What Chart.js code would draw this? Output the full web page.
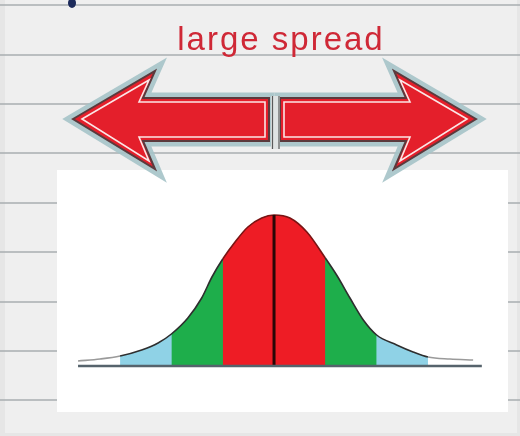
<!DOCTYPE html>
<html>
<head>
<meta charset="utf-8">
<script src="https://cdn.jsdelivr.net/npm/chart.js@4.4.1/dist/chart.umd.min.js"></script>
<style>
  html,body{margin:0;padding:0;background:#e9e9e9;overflow:hidden;}
  #wrap{position:relative;width:520px;height:436px;}
  #c{position:absolute;left:0;top:0;}
  #title{position:absolute;left:0;top:22px;width:562px;text-align:center;
    font-family:"Liberation Sans","DejaVu Sans",sans-serif;font-size:33px;line-height:34px;
    letter-spacing:2px;color:#cf2836;white-space:nowrap;}
</style>
</head>
<body>
<div id="wrap">
  <canvas id="c" width="520" height="436"></canvas>
  <div id="title">large spread</div>
</div>
<script>
// ---- data (x in spread units from the centre, y = curve height) ----
const curveX = [-3.82, -3.39, -3.0, -2.58, -2.26, -2.0, -1.68, -1.41, -1.21, -1.0, -0.76, -0.51, -0.24, 0.0,
                 0.31, 0.64, 1.0, 1.22, 1.48, 1.74, 2.0, 2.39, 2.71, 3.0, 3.43, 3.88];
const curveY = [5, 7, 10, 16, 23, 32, 48, 68, 89, 107, 124, 139, 148, 151,
                148, 134, 108, 91, 68, 46, 31, 21, 14, 9, 7, 6];
// nested bands: outer (light blue) +-3, middle (green) +-2, inner (red) +-1
const bandLimits = [3, 2, 1];
const bandColors = ['#8fd2e6', '#1eae4b', '#ee1c25'];
const baselineX = [-3.82, 4.05];
const centreX = 0;
const centreTop = 151;

const curvePts = curveX.map((x, i) => ({x: x, y: curveY[i]}));

const datasets = [];
bandLimits.forEach((lim, i) => {
  datasets.push({
    data: curvePts.filter(p => p.x >= -lim && p.x <= lim),
    backgroundColor: bandColors[i],
    borderWidth: 0,
    fill: 'origin',
    pointRadius: 0,
    cubicInterpolationMode: 'monotone',
    order: 20 - i
  });
});
datasets.push({
  data: curvePts,
  borderColor: '#333',
  borderWidth: 1.6,
  fill: false,
  pointRadius: 0,
  cubicInterpolationMode: 'monotone',
  order: 3,
  segment: {
    borderColor: ctx => {
      const x0 = ctx.p0.parsed.x, x1 = ctx.p1.parsed.x;
      if (x1 <= -3 || x0 >= 3) return '#9a9a9a';
      if (x0 >= -1 && x1 <= 1) return '#7a1414';
      return '#2e2e2e';
    }
  }
});
datasets.push({
  data: [{x: centreX, y: 0}, {x: centreX, y: centreTop}],
  borderColor: '#2a0606',
  borderWidth: 3,
  pointRadius: 0,
  fill: false,
  order: 2
});
datasets.push({
  data: baselineX.map(x => ({x: x, y: 0})),
  borderColor: '#56636c',
  borderWidth: 2.5,
  pointRadius: 0,
  fill: false,
  order: 1
});

function arrowPath(ctx, pts, mirror) {
  ctx.beginPath();
  pts.forEach((p, i) => {
    const x = mirror ? 549 - p[0] : p[0];
    if (i === 0) ctx.moveTo(x, p[1]); else ctx.lineTo(x, p[1]);
  });
  ctx.closePath();
}

const outer = [[73,119],[155,71],[143,98],[269,98],[269,141],[143,141],[155,169]];
const inner = [[82,119],[149,80],[139,102],[265,102],[265,137],[139,137],[149,161]];

const paperPlugin = {
  id: 'paper',
  beforeDraw(chart) {
    const ctx = chart.ctx;
    ctx.save();
    // paper
    ctx.fillStyle = '#e6e6e6';
    ctx.fillRect(0, 0, 520, 436);
    ctx.fillStyle = '#efefef';
    ctx.fillRect(5, 0, 512, 433);
    ctx.strokeStyle = '#a8aeb1';
    ctx.lineWidth = 1.5;
    [5, 55, 104, 153, 203, 252, 302, 351, 400].forEach(y => {
      ctx.beginPath(); ctx.moveTo(0, y); ctx.lineTo(520, y); ctx.stroke();
    });
    // small ink mark top-left
    ctx.fillStyle = '#1c2a5a';
    ctx.beginPath(); ctx.ellipse(72, 3, 4, 5, 0, 0, Math.PI * 2); ctx.fill();
    // white chart panel
    const a = chart.chartArea;
    ctx.fillStyle = '#ffffff';
    ctx.fillRect(a.left, a.top, a.right - a.left, a.bottom - a.top);
    // arrows
    [false, true].forEach(m => {
      ctx.lineJoin = 'miter';
      arrowPath(ctx, outer, m);
      ctx.strokeStyle = 'rgba(165,195,200,0.9)';
      ctx.lineWidth = 11;
      ctx.stroke();
      ctx.fillStyle = '#e41f2b';
      ctx.fill();
      ctx.strokeStyle = '#5b3a3d';
      ctx.lineWidth = 2;
      ctx.stroke();
      arrowPath(ctx, inner, m);
      ctx.strokeStyle = '#fbe6e6';
      ctx.lineWidth = 1.6;
      ctx.stroke();
    });
    // divider between the two shafts
    ctx.fillStyle = '#dfe3e3';
    ctx.fillRect(271, 96, 9, 53);
    ctx.strokeStyle = '#5a5a5a';
    ctx.lineWidth = 1.2;
    ctx.beginPath(); ctx.moveTo(272.5, 96); ctx.lineTo(272.5, 149); ctx.stroke();
    ctx.beginPath(); ctx.moveTo(279, 96); ctx.lineTo(279, 149); ctx.stroke();
    ctx.restore();
  }
};

new Chart(document.getElementById('c'), {
  type: 'line',
  data: { datasets: datasets },
  options: {
    responsive: false,
    animation: false,
    devicePixelRatio: 1,
    layout: { padding: { left: 57, right: 12, top: 170, bottom: 24 } },
    plugins: { legend: { display: false }, tooltip: { enabled: false }, title: { display: false } },
    scales: {
      x: { type: 'linear', min: -4.23, max: 4.56, display: false },
      y: { type: 'linear', min: -46, max: 196, display: false }
    }
  },
  plugins: [paperPlugin]
});
</script>
</body>
</html>
